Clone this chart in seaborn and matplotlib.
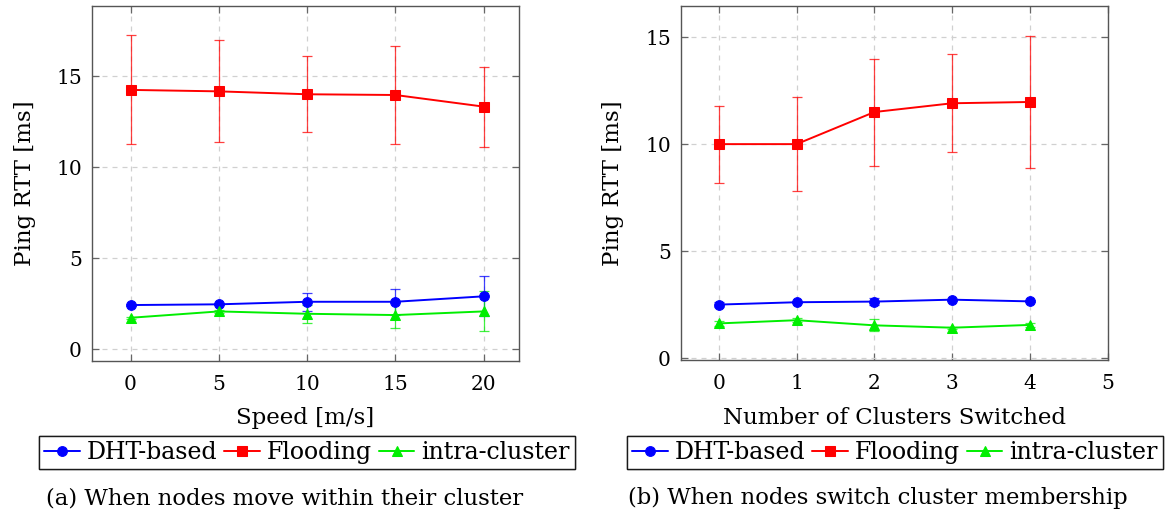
import matplotlib
matplotlib.use("Agg")
import matplotlib.pyplot as plt
import seaborn as sns

# (a) speed within the cluster
speed = [0, 5, 10, 15, 20]
dht_a = [2.42, 2.46, 2.60, 2.60, 2.90]
dht_a_err = [0.05, 0.05, 0.50, 0.70, 1.10]
flood_a = [14.25, 14.17, 14.01, 13.97, 13.33]
flood_a_err = [3.0, 2.8, 2.1, 2.7, 2.2]
intra_a = [1.72, 2.07, 1.94, 1.87, 2.07]
intra_a_err = [0.05, 0.08, 0.50, 0.73, 1.10]

# (b) number of clusters switched
switched = [0, 1, 2, 3, 4]
dht_b = [2.51, 2.62, 2.65, 2.74, 2.66]
dht_b_err = [0.10, 0.05, 0.15, 0.05, 0.05]
flood_b = [10.01, 10.01, 11.51, 11.92, 11.98]
flood_b_err = [1.8, 2.2, 2.5, 2.3, 3.1]
intra_b = [1.63, 1.78, 1.54, 1.43, 1.56]
intra_b_err = [0.10, 0.08, 0.28, 0.05, 0.10]

labels = ["DHT-based", "Flooding", "intra-cluster"]
colors = ["#0000ff", "#ff0000", "#00ee00"]
cap_colors = ["#3355ff", "#ff8c1a", "#33ee33"]
markers = ["o", "s", "^"]
msizes = [7, 7.5, 7]

sns.set_theme(style="white")
plt.rcParams["font.family"] = ["DejaVu Serif"]
plt.rcParams["font.size"] = 15
plt.rcParams["text.color"] = "black"
plt.rcParams["axes.labelcolor"] = "black"
plt.rcParams["xtick.color"] = "black"
plt.rcParams["ytick.color"] = "black"

fig = plt.figure(figsize=(11.67, 5.18), dpi=100)
W, H = 1167, 518
ax1 = fig.add_axes([91.7 / W, (H - 360.7) / H, 427.3 / W, 355 / H])
ax2 = fig.add_axes([680.7 / W, (H - 360.0) / H, 427.0 / W, 354.3 / H])


def draw(ax, x, series, errs):
    handles = []
    for y, e, lab, c, cc, m, ms in zip(series, errs, labels, colors, cap_colors, markers, msizes):
        _, caps, bars = ax.errorbar(x, y, yerr=e, fmt="none", ecolor=c, elinewidth=0.9,
                                    capsize=3.5, capthick=0.9, alpha=0.75, zorder=2)
        for cap in caps:
            cap.set_color(cc)
        sns.lineplot(x=x, y=y, ax=ax, color=c, marker=m, markersize=ms,
                     markeredgecolor=c, linewidth=1.4, label=lab, legend=False, zorder=3)
        handles.append(ax.lines[-1])
    ax.grid(True, linestyle=(0, (4, 4)), color="#d0d0d0", linewidth=0.9)
    ax.set_axisbelow(True)
    for s in ax.spines.values():
        s.set_color("#555555")
        s.set_linewidth(1.0)
    ax.tick_params(direction="in", length=5, width=0.9, color="#666666",
                   labelcolor="black", top=True, right=True, bottom=True, left=True,
                   labelsize=14.5)
    ax.tick_params(axis="x", pad=10)
    ax.tick_params(axis="y", pad=7)
    ax.set_ylabel("Ping RTT [ms]", fontsize=16.5, va="center")
    return handles


h = draw(ax1, speed, [dht_a, flood_a, intra_a], [dht_a_err, flood_a_err, intra_a_err])
ax1.set_xlim(-2.2, 22)
ax1.set_ylim(-0.64, 18.88)
ax1.set_xticks(speed)
ax1.set_yticks([0, 5, 10, 15])
ax1.set_xlabel("Speed [m/s]", fontsize=16.5, va="center")
ax1.xaxis.set_label_coords(0.5, (360.7 - 418) / 355)
ax1.yaxis.set_label_coords((25 - 91.7) / 427.3, 0.5)

draw(ax2, switched, [dht_b, flood_b, intra_b], [dht_b_err, flood_b_err, intra_b_err])
ax2.set_xlim(-0.49, 5.0)
ax2.set_ylim(-0.08, 16.48)
ax2.set_xticks([0, 1, 2, 3, 4, 5])
ax2.set_yticks([0, 5, 10, 15])
ax2.set_xlabel("Number of Clusters Switched", fontsize=16.5, va="center")
ax2.xaxis.set_label_coords(0.5, (360 - 418) / 354.3)
ax2.yaxis.set_label_coords((613 - 680.7) / 427, 0.5)

for cx in (307 / W, 895 / W):
    leg = fig.legend(h, labels, loc="center", bbox_to_anchor=(cx, (H - 452.5) / H), ncol=3,
                     frameon=True, fancybox=False, edgecolor="black", fontsize=17,
                     handlelength=1.5, handletextpad=0.3, columnspacing=0.3,
                     borderpad=0.2, borderaxespad=0)
    leg.get_frame().set_linewidth(1.0)
    fig.add_artist(leg)

fig.text(285 / W, (H - 498) / H, "(a) When nodes move within their cluster",
         ha="center", va="center", fontsize=16.4)
fig.text(878 / W, (H - 498) / H, "(b) When nodes switch cluster membership",
         ha="center", va="center", fontsize=16.4)

fig.savefig("out.png", dpi=100)
